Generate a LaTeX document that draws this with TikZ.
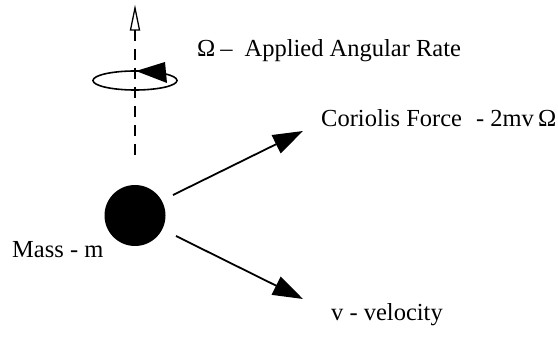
\documentclass[tikz,border=0pt]{standalone}
\usepackage{fontspec}
\setmainfont{Liberation Serif}
\usetikzlibrary{arrows.meta,calc}
\begin{document}
\begin{tikzpicture}[x=1pt,y=-1pt,
  lbl/.style={anchor=base west,inner sep=0pt,font=\fontsize{24.5}{28}\selectfont},
  force/.style={line width=1.8pt,-{Triangle[length=30pt,width=20pt]}},
  axis/.style={line width=1.5pt,dash pattern=on 11pt off 8pt}]
\useasboundingbox (0,0) rectangle (558,339);
% axis
\coordinate (axtop) at (135,30);
\coordinate (axbot) at (135,155);
\coordinate (tip) at (135,8);
\draw[axis] (axtop) -- (axbot);
\draw[line width=1.3pt,line join=miter] ($(axtop)+(-4.5,0)$) -- (tip) -- ($(axtop)+(4.5,0)$) -- cycle;
% rotation ellipse
\draw[line width=1.6pt] (135,80.5) ellipse [x radius=42, y radius=9.5];
\fill (136,71) -- (165,62) -- (167,83) -- cycle;
% mass
\node[circle,fill,minimum size=61pt,inner sep=0pt] (mass) at (135,215.5) {};
\coordinate (s1) at (173,195);
\coordinate (e1) at (303,131);
\coordinate (s2) at (176,236);
\coordinate (e2) at (303,299);
\draw[force] (s1) -- (e1);
\draw[force] (s2) -- (e2);
% labels
\node[lbl] (omega) at (197,57) {Ω\hspace{5pt}–\hspace{12pt}Applied Angular Rate};
\node[lbl] (cor) at (321,127) {Coriolis Force\hspace{14pt}- 2mv\,Ω};
\node[lbl] (ml) at (12,258) {Mass - m};
\node[lbl] (vl) at (331,321) {v - velocity};
\end{tikzpicture}
\end{document}
